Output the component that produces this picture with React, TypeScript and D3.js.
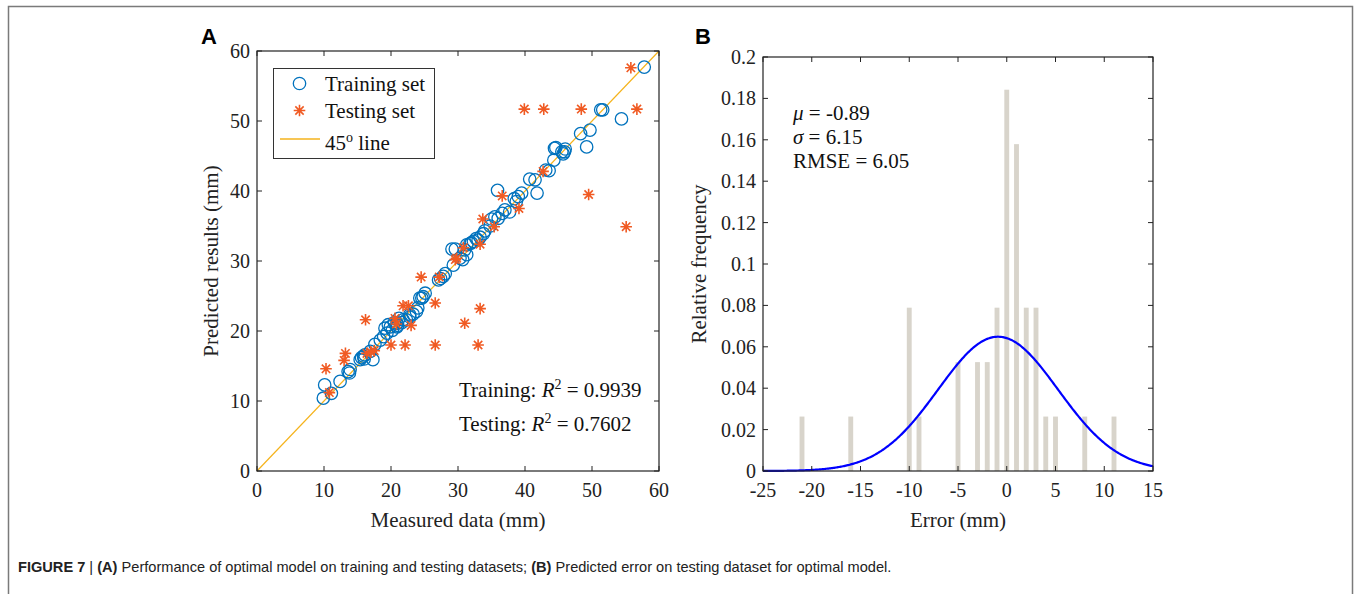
import React from "react";
import * as d3 from "d3";

// ---------- DATA ----------
const trainingMeasured = [57.8, 51.6, 51.3, 54.4, 49.7, 48.3, 49.2, 44.6, 44.4, 46.0, 45.7, 45.9, 44.3, 43.1, 43.6, 41.8,
  40.7, 41.5, 35.9, 38.4, 39.0, 39.5, 38.7, 37.7, 36.6, 35.5, 35.0, 36.0, 34.8, 33.8, 33.3, 32.7, 32.3, 31.8, 31.3,
  29.6, 29.1, 31.0, 31.3, 30.7, 30.3, 29.3, 28.1, 27.8, 27.4, 27.1, 25.1, 24.8, 24.6, 24.3, 23.8, 22.8, 22.8, 22.3,
  21.8, 21.6, 20.9, 20.9, 19.9, 19.6, 19.1, 19.4, 18.9, 18.4, 17.6, 16.9, 16.1, 15.6, 15.4, 17.3, 13.9, 13.6, 12.4,
  10.1, 11.1, 9.9, 20.5, 21.2, 20.2, 24.0, 23.3, 32.0, 33.0, 34.0, 16.0, 15.9, 13.8, 45.5, 21.0, 37.0];
const trainingPredicted = [57.7, 51.6, 51.6, 50.3, 48.7, 48.2, 46.3, 46.2, 46.1, 46.0, 45.3, 45.6, 44.4, 43.0, 42.9, 39.7,
  41.7, 41.6, 40.1, 38.9, 39.2, 39.7, 38.5, 37.0, 36.8, 36.3, 36.0, 36.1, 35.0, 33.9, 33.4, 33.2, 32.8, 32.5, 32.3,
  31.7, 31.7, 31.6, 30.9, 30.2, 30.4, 29.4, 28.2, 27.8, 27.5, 27.3, 25.4, 24.9, 24.7, 24.7, 22.8, 22.3, 22.0, 21.6,
  21.6, 21.2, 21.1, 20.6, 20.6, 20.9, 20.4, 19.7, 19.2, 18.7, 18.1, 17.1, 16.6, 16.2, 15.9, 15.9, 14.5, 14.2, 12.8,
  12.3, 11.1, 10.4, 21.2, 21.8, 20.1, 23.3, 22.4, 32.6, 33.0, 34.3, 16.0, 16.4, 14.0, 45.6, 20.8, 37.3];

const testingMeasured = [55.8, 39.9, 42.8, 48.4, 56.7, 42.7, 49.5, 55.1, 36.6, 39.1, 33.7, 35.4, 30.8, 33.3, 29.6, 24.5,
  27.2, 26.6, 21.8, 22.6, 20.6, 16.2, 33.3, 31.0, 23.0, 20.0, 22.1, 26.6, 33.0, 13.2, 13.0, 16.4, 17.5, 10.3, 10.8,
  29.8, 20.8, 17.0];
const testingPredicted = [57.6, 51.7, 51.7, 51.7, 51.7, 42.8, 39.5, 34.9, 39.3, 37.5, 36.0, 34.9, 31.9, 32.4, 30.2, 27.7,
  27.7, 24.0, 23.6, 23.6, 21.8, 21.6, 23.2, 21.1, 20.8, 18.0, 18.0, 18.0, 18.0, 16.8, 15.8, 16.8, 17.2, 14.6, 11.2,
  30.4, 21.0, 17.0];

const errorBins = [-21, -16, -10, -9, -5, -3, -2, -1, 0, 1, 2, 3, 4, 5, 8, 11];
const errorFreq = [0.0263, 0.0263, 0.0789, 0.0263, 0.0526, 0.0526, 0.0526, 0.0789, 0.1842, 0.1579, 0.0789, 0.0789,
  0.0263, 0.0263, 0.0263, 0.0263];
const fitMu = -0.89;
const fitSigma = 6.15;
const rmse = 6.05;
const r2Training = "0.9939";
const r2Testing = "0.7602";

const xTicksA = [0, 10, 20, 30, 40, 50, 60];
const yTicksA = [0, 10, 20, 30, 40, 50, 60];
const xTicksB = [-25, -20, -15, -10, -5, 0, 5, 10, 15];
const yTicksB = [0, 0.02, 0.04, 0.06, 0.08, 0.1, 0.12, 0.14, 0.16, 0.18, 0.2];

// ---------- STYLE ----------
const SERIF = "'Liberation Serif', 'Times New Roman', serif";
const SANS = "'Liberation Sans', Arial, Helvetica, sans-serif";
const BLUE = "#0072BD";
const ORANGE = "#F05A23";
const GOLD = "#F5B31C";
const BAR = "#D8D4CB";
const TICK_FS = 20;
const LABEL_FS = 21;

function asteriskPath(cx: number, cy: number, r: number) {
  const d = r * 0.72;
  return `M${cx - r},${cy}H${cx + r}M${cx},${cy - r}V${cy + r}M${cx - d},${cy - d}L${cx + d},${cy + d}M${cx - d},${cy + d}L${cx + d},${cy - d}`;
}

function fmtB(v: number) {
  return String(+v.toFixed(2));
}

export default function App() {
  // Panel A scales
  const xA = d3.scaleLinear().domain([0, 60]).range([257, 659]);
  const yA = d3.scaleLinear().domain([0, 60]).range([471, 51]);
  // Panel B scales
  const xB = d3.scaleLinear().domain([-25, 15]).range([763, 1153]);
  const yB = d3.scaleLinear().domain([0, 0.2]).range([471, 57]);

  const tl = 5;

  const pdf = (x: number) => Math.exp(-((x - fitMu) ** 2) / (2 * fitSigma * fitSigma)) / (fitSigma * Math.sqrt(2 * Math.PI));
  const curveXs = d3.range(-25, 15.001, 0.1);
  const curve = d3.line<number>().x((d) => xB(d)).y((d) => yB(pdf(d)))(curveXs) || "";

  const barW = xB(0.5) - xB(0);

  return (
    <svg width={1354} height={594} style={{ position: "absolute", left: 0, top: 0, background: "#fff" }}>
      {/* outer frame */}
      <rect x={8.5} y={6.5} width={1344} height={600} fill="none" stroke="#7a7a7a" strokeWidth={1.5} />

      {/* ================= PANEL A ================= */}
      <text x={201} y={44} fontFamily={SANS} fontWeight="bold" fontSize={22}>A</text>

      {/* 45 line */}
      <line x1={xA(0)} y1={yA(0)} x2={xA(60)} y2={yA(60)} stroke={GOLD} strokeWidth={1.2} />

      {/* training circles */}
      {trainingMeasured.map((m, i) => (
        <circle key={"tr" + i} cx={xA(m)} cy={yA(trainingPredicted[i])} r={6.2} fill="none" stroke={BLUE} strokeWidth={1.3} />
      ))}
      {/* testing asterisks */}
      {testingMeasured.map((m, i) => (
        <path key={"te" + i} d={asteriskPath(xA(m), yA(testingPredicted[i]), 5.8)} stroke={ORANGE} strokeWidth={1.6} fill="none" />
      ))}

      {/* axes box */}
      <rect x={xA(0)} y={yA(60)} width={xA(60) - xA(0)} height={yA(0) - yA(60)} fill="none" stroke="#222" strokeWidth={1.2} />
      {xTicksA.map((t) => (
        <g key={"xta" + t}>
          <line x1={xA(t)} x2={xA(t)} y1={yA(0)} y2={yA(0) - tl} stroke="#222" />
          <line x1={xA(t)} x2={xA(t)} y1={yA(60)} y2={yA(60) + tl} stroke="#222" />
          <text x={xA(t)} y={yA(0) + 26} textAnchor="middle" fontFamily={SERIF} fontSize={TICK_FS} fill="#222">{t}</text>
        </g>
      ))}
      {yTicksA.map((t) => (
        <g key={"yta" + t}>
          <line x1={xA(0)} x2={xA(0) + tl} y1={yA(t)} y2={yA(t)} stroke="#222" />
          <line x1={xA(60)} x2={xA(60) - tl} y1={yA(t)} y2={yA(t)} stroke="#222" />
          <text x={xA(0) - 7} y={yA(t) + 7} textAnchor="end" fontFamily={SERIF} fontSize={TICK_FS} fill="#222">{t}</text>
        </g>
      ))}
      <text x={(xA(0) + xA(60)) / 2} y={527} textAnchor="middle" fontFamily={SERIF} fontSize={LABEL_FS} fill="#222">Measured data (mm)</text>
      <text transform={`translate(218,${(yA(0) + yA(60)) / 2}) rotate(-90)`} textAnchor="middle" fontFamily={SERIF} fontSize={LABEL_FS} fill="#222">Predicted results (mm)</text>

      {/* legend */}
      <rect x={273.5} y={68.5} width={161} height={90} fill="#fff" stroke="#333" strokeWidth={1} />
      <circle cx={299.5} cy={83.5} r={6.2} fill="none" stroke={BLUE} strokeWidth={1.3} />
      <text x={325} y={90.5} fontFamily={SERIF} fontSize={LABEL_FS} fill="#111">Training set</text>
      <path d={asteriskPath(299.5, 110.5, 5.8)} stroke={ORANGE} strokeWidth={1.6} fill="none" />
      <text x={325} y={117.5} fontFamily={SERIF} fontSize={LABEL_FS} fill="#111">Testing set</text>
      <line x1={280} x2={320} y1={139} y2={139} stroke={GOLD} strokeWidth={1.5} />
      <text x={325} y={150} fontFamily={SERIF} fontSize={LABEL_FS} fill="#111">
        45<tspan dy={-8} fontSize={14}>o</tspan><tspan dy={8}> line</tspan>
      </text>

      {/* R2 annotations */}
      <text x={459} y={397} fontFamily={SERIF} fontSize={LABEL_FS} fill="#111">
        Training: <tspan fontStyle="italic">R</tspan><tspan dy={-8} fontSize={14}>2</tspan><tspan dy={8}> = {r2Training}</tspan>
      </text>
      <text x={459} y={431} fontFamily={SERIF} fontSize={LABEL_FS} fill="#111">
        Testing: <tspan fontStyle="italic">R</tspan><tspan dy={-8} fontSize={14}>2</tspan><tspan dy={8}> = {r2Testing}</tspan>
      </text>

      {/* ================= PANEL B ================= */}
      <text x={695} y={44} fontFamily={SANS} fontWeight="bold" fontSize={22}>B</text>

      {errorBins.map((b, i) => (
        <rect key={"bar" + i} x={xB(b) - barW / 2} y={yB(errorFreq[i])} width={barW} height={yB(0) - yB(errorFreq[i])} fill={BAR} />
      ))}
      <path d={curve} fill="none" stroke="#0000FF" strokeWidth={2.2} />

      <rect x={xB(-25)} y={yB(0.2)} width={xB(15) - xB(-25)} height={yB(0) - yB(0.2)} fill="none" stroke="#222" strokeWidth={1.2} />
      {xTicksB.map((t) => (
        <g key={"xtb" + t}>
          <line x1={xB(t)} x2={xB(t)} y1={yB(0)} y2={yB(0) - tl} stroke="#222" />
          <line x1={xB(t)} x2={xB(t)} y1={yB(0.2)} y2={yB(0.2) + tl} stroke="#222" />
          <text x={xB(t)} y={yB(0) + 26} textAnchor="middle" fontFamily={SERIF} fontSize={TICK_FS} fill="#222">{t}</text>
        </g>
      ))}
      {yTicksB.map((t) => (
        <g key={"ytb" + t}>
          <line x1={xB(-25)} x2={xB(-25) + tl} y1={yB(t)} y2={yB(t)} stroke="#222" />
          <line x1={xB(15)} x2={xB(15) - tl} y1={yB(t)} y2={yB(t)} stroke="#222" />
          <text x={xB(-25) - 7} y={yB(t) + 7} textAnchor="end" fontFamily={SERIF} fontSize={TICK_FS} fill="#222">{fmtB(t)}</text>
        </g>
      ))}
      <text x={(xB(-25) + xB(15)) / 2} y={527} textAnchor="middle" fontFamily={SERIF} fontSize={LABEL_FS} fill="#222">Error (mm)</text>
      <text transform={`translate(706,${(yB(0) + yB(0.2)) / 2}) rotate(-90)`} textAnchor="middle" fontFamily={SERIF} fontSize={LABEL_FS} fill="#222">Relative frequency</text>

      <text x={793} y={120} fontFamily={SERIF} fontSize={LABEL_FS} fill="#111"><tspan fontStyle="italic">μ</tspan> = {fitMu.toFixed(2)}</text>
      <text x={793} y={144} fontFamily={SERIF} fontSize={LABEL_FS} fill="#111"><tspan fontStyle="italic">σ</tspan> = {fitSigma.toFixed(2)}</text>
      <text x={793} y={168} fontFamily={SERIF} fontSize={LABEL_FS} fill="#111">RMSE = {rmse.toFixed(2)}</text>

      {/* caption */}
      <text x={18} y={572} fontFamily={SANS} fontSize={14.6} fill="#222">
        <tspan fontWeight="bold">FIGURE 7</tspan> | <tspan fontWeight="bold">(A)</tspan> Performance of optimal model on training and testing datasets; <tspan fontWeight="bold">(B)</tspan> Predicted error on testing dataset for optimal model.
      </text>
    </svg>
  );
}
